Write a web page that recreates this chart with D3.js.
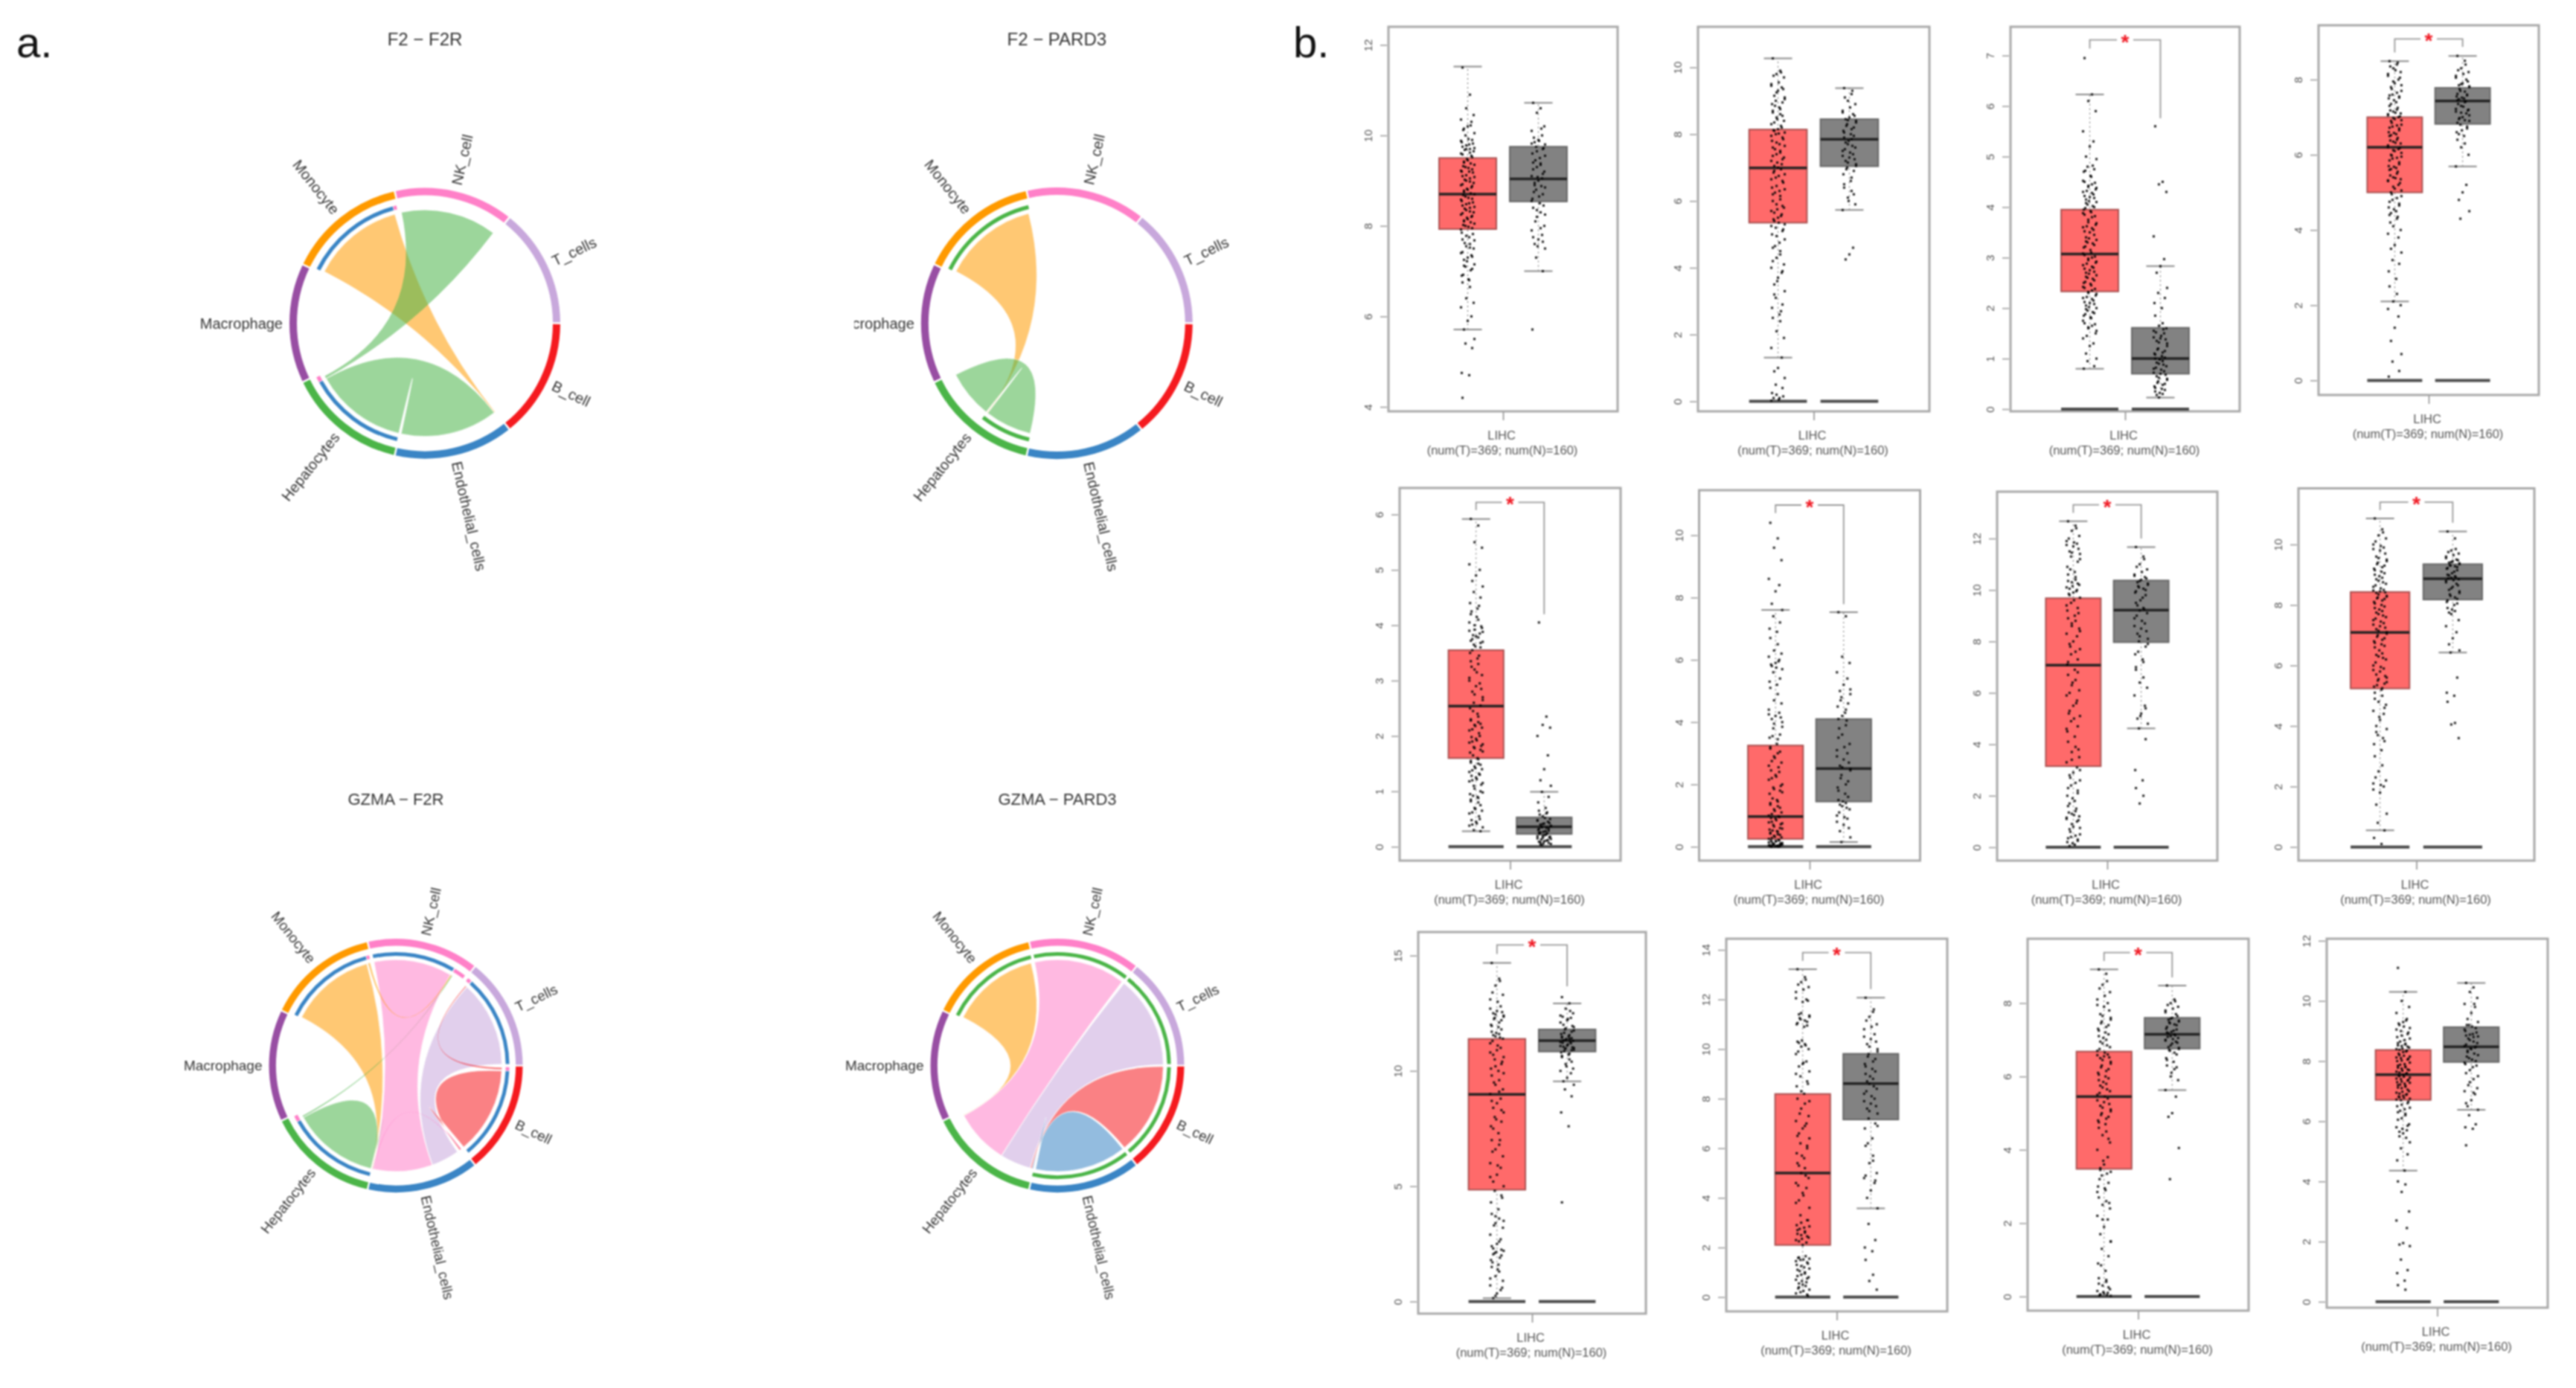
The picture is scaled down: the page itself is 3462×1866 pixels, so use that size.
<!DOCTYPE html>
<html><head><meta charset="utf-8">
<script src="https://cdnjs.cloudflare.com/ajax/libs/d3/7.8.5/d3.min.js"></script>
<style>html,body{margin:0;padding:0;background:#fff;overflow:hidden}svg{display:block;filter:blur(1.1px)}text{font-family:"Liberation Sans",Arial,sans-serif}</style>
</head><body><svg id="c" width="3462" height="1866"></svg>
<script>
// ---------- chord data ----------
const sectors=["B_cell","Endothelial_cells","Hepatocytes","Macrophage","Monocyte","NK_cell","T_cells"];
const sectorColors=["#f51a1f","#3a85c5","#4bb548","#984ea3","#ff9a00","#ff80c8","#c8a8dc"];
const chordTitles=["F2 − F2R","F2 − PARD3","GZMA − F2R","GZMA − PARD3"];
// tracks: [colour sector, from, to]; links: [colour sector, source from, source to, target from, target to], in sector units
const tracks1=[[1,4.02,4.95],[5,4.955,4.985],[1,2.01,2.93],[5,2.935,2.985]];
const links1=[[4,4.03,4.95,1.005,1.012],[2,2.01,2.93,1.015,1.985],[2,2.935,2.96,5.02,5.97]];
const tracks2=[[2,4.02,4.985],[2,2.01,2.49]];
const links2=[[4,4.03,4.97,2.485,2.49],[2,2.5,2.975,2.015,2.48]];
const tracks3=[[1,4.02,4.95],[5,4.955,4.985],[1,5.02,5.85],[5,5.86,5.98],[5,6.02,6.06],[1,6.07,6.985],[5,.015,.05],[1,.055,.975],[1,2.01,2.92],[5,2.925,2.985]];
const links3=[[4,4.03,4.94,2,2.005],[2,2.015,2.93,1.99,1.995],[2,2.935,2.95,5.865,5.875],[5,5.02,5.85,1.36,1.985],[6,6.07,6.985,1.06,1.355],[0,.055,.975,1.01,1.03],[4,4.955,4.975,5.855,5.865],[0,.02,.04,6.05,6.06],[5,1.985,1.995,1.01,1.02]];
const tracks4=[[2,4.02,4.985],[2,5.015,5.985],[2,6.015,6.985],[2,.015,.975],[2,1.01,2]];
const links4=[[4,4.03,4.97,2.955,2.96],[5,5.01,5.98,2.37,2.95],[6,6.01,6.99,2.04,2.365],[0,.01,.985,2.02,2.035],[1,1.01,1.98,2.005,2.018]];
const chordTracks=[tracks1,tracks2,tracks3,tracks4];
const chordLinks=[links1,links2,links3,links4];
// ---------- box data: [low whisker, q1, median, q3, high whisker] ----------
const boxT=[[5.71,7.93,8.7,9.5,11.52],[1.31,5.35,6.99,8.14,10.27],[.8,2.33,3.07,3.95,6.23],[2.1,5,6.2,7,8.49],[.28,1.6,2.54,3.55,5.92],[0,.25,.97,3.25,7.6],[0,3.15,7.08,9.68,12.67],[.55,5.24,7.09,8.43,10.86],[.15,4.85,8.98,11.39,14.68],[0,2.1,5,8.19,13.22],[0,3.48,5.45,6.68,8.92],[4.36,6.71,7.55,8.37,10.3]];
const boxN=[[7,8.54,9.04,9.75,10.72],[5.73,7.04,7.85,8.45,9.38],[.23,.7,1,1.61,2.83],[5.69,6.82,7.43,7.78,8.63],[0,.23,.36,.53,.99],[.15,1.45,2.51,4.1,7.53],[4.62,7.97,9.22,10.37,11.67],[6.43,8.18,8.87,9.35,10.43],[9.55,10.84,11.31,11.8,12.93],[3.58,7.16,8.61,9.81,12.07],[5.63,6.76,7.15,7.6,8.48],[6.38,7.97,8.48,9.13,10.6]];
const zeroBars=[false,true,true,true,true,true,true,true,true,true,true,true];
const tickLabels=[[4,6,8,10,12],[0,2,4,6,8,10],[0,1,2,3,4,5,6,7],[0,2,4,6,8],[0,1,2,3,4,5,6],[0,2,4,6,8,10],[0,2,4,6,8,10,12],[0,2,4,6,8,10],[0,5,10,15],[0,2,4,6,8,10,12,14],[0,2,4,6,8],[0,2,4,6,8,10,12]];
// significance brackets: [top, T side end, N side end] in axis units; null = not significant
const brackets=[null,null,[7.31,7.14,5.76],[9.08,8.72,8.87],[6.22,6.08,4.2],[10.97,10.71,7.79],[13.31,13,12],[11.4,11.14,10.72],[15.46,15.07,13.67],[13.89,13.56,12.42],[9.38,9.15,8.7],null];
const xCategory="LIHC";
const xCounts="(num(T)=369; num(N)=160)";
// points read off each strip (estimates)
const t1=[11.5,10.9,10.6,10.45,10.35,10.3,10.2,10.15,10.05,10,9.9,9.85,9.8,9.75,9.7,9.7,9.65,9.6,9.55,9.45,9.4,9.35,9.3,9.25,9.2,9.2,9.1,9.05,9,8.95,8.9,8.85,8.8,8.75,8.7,8.65,8.6,8.55,8.5,8.45,8.4,8.35,8.3,8.25,8.2,8.15,8.1,8.05,8,7.95,7.85,7.75,7.7,7.6,7.55,7.5,7.4,7.35,7.3,7.25,7.15,7.1,7.05,6.9,6.8,6.75,6.65,6.4,6.3,6.2,6,5.9,5.71,5.5,5.4,5.3,4.75,4.7,4.2];
const n1=[10.72,10.6,10.5,10.2,10.1,10,9.9,9.85,9.8,9.75,9.7,9.6,9.5,9.4,9.35,9.3,9.2,9.1,9.05,9,8.9,8.85,8.8,8.7,8.6,8.5,8.4,8.3,8.2,8,7.9,7.8,7.7,7.6,7.5,7.3,7,5.71];
const t2=[10.27,9.9,9.8,9.7,9.5,9.4,9.3,9.15,9.1,9,8.95,8.9,8.8,8.7,8.6,8.5,8.4,8.3,8.2,8.15,8.1,8.05,8,7.9,7.8,7.7,7.6,7.5,7.4,7.3,7.2,7.1,7,6.9,6.8,6.7,6.6,6.4,6.3,6.2,6.05,5.9,5.8,5.7,5.6,5.5,5.4,5.3,5.2,5.1,5,4.75,4.6,4.5,4.3,4.1,4,3.85,3.7,3.5,3.3,3.1,2.9,2.8,2.6,2.5,2.4,2.1,1.9,1.6,1.31,1,.9,.7,.5,.4,.25,.1];
const n2=[9.38,9.2,9,8.9,8.7,8.6,8.5,8.45,8.4,8.3,8.2,8.1,8,7.9,7.85,7.7,7.6,7.5,7.4,7.3,7.2,7.1,7,6.9,6.8,6.6,6.4,6.3,6.1,5.9,5.73,4.6,4.4,4.25];
const t3=[6.95,6.23,6.1,5.9,5.5,5.3,5.2,5,4.95,4.8,4.75,4.7,4.6,4.5,4.45,4.4,4.35,4.3,4.25,4.2,4.15,4.1,4.05,4,3.95,3.9,3.85,3.8,3.7,3.65,3.6,3.55,3.5,3.4,3.35,3.3,3.25,3.2,3.1,3.05,3,2.95,2.9,2.85,2.8,2.75,2.7,2.65,2.6,2.55,2.5,2.45,2.4,2.35,2.3,2.25,2.2,2.15,2.1,2.05,2,1.95,1.9,1.85,1.8,1.7,1.65,1.6,1.5,1.4,1.3,1.25,1.1,1,.95,.85,.8];
const n3=[5.6,4.5,4.45,4.3,3.42,2.97,2.83,2.7,2.4,2.3,2.2,2.1,2,1.85,1.7,1.65,1.6,1.55,1.5,1.4,1.35,1.3,1.2,1.15,1.1,1.05,1,.95,.9,.85,.8,.75,.7,.65,.6,.55,.5,.45,.4,.35,.3,.23];
const t4=[8.49,8.4,8.3,8.2,8.1,8,7.9,7.8,7.7,7.6,7.55,7.5,7.4,7.3,7.2,7.15,7.1,7.05,7,6.95,6.9,6.8,6.75,6.7,6.6,6.55,6.5,6.4,6.35,6.3,6.2,6.15,6.1,6,5.95,5.9,5.8,5.7,5.65,5.6,5.5,5.4,5.35,5.3,5.2,5.1,5,4.9,4.8,4.7,4.6,4.5,4.4,4.3,4.1,4,3.9,3.8,3.6,3.5,3.4,3.2,3.1,2.9,2.7,2.5,2.3,2.1,2,1.9,1.7,1.4,1.05,.7,.5,.25,.1];
const n4=[8.63,8.5,8.3,8.2,8.1,8,7.9,7.85,7.8,7.7,7.6,7.55,7.5,7.45,7.4,7.3,7.2,7.15,7.1,7,6.95,6.9,6.8,6.7,6.6,6.5,6.4,6.3,6.2,6,5.69,5.2,5,4.8,4.5,4.3];
const t5=[5.92,5.8,5.5,5.4,5.1,5,4.9,4.8,4.7,4.6,4.5,4.4,4.3,4.2,4.1,4,3.95,3.9,3.85,3.8,3.75,3.7,3.65,3.6,3.5,3.4,3.35,3.3,3.2,3.1,3,2.95,2.9,2.8,2.7,2.6,2.55,2.5,2.4,2.3,2.25,2.2,2.15,2.1,2,1.95,1.9,1.85,1.8,1.75,1.7,1.6,1.55,1.5,1.45,1.4,1.35,1.3,1.25,1.2,1.15,1.1,1,.95,.9,.85,.8,.7,.65,.6,.5,.45,.4,.35,.3,.28];
const n5=[4.05,2.35,2.2,2.15,2,1.65,1.4,1.2,1.1,.99,.9,.8,.7,.65,.6,.55,.5,.48,.45,.42,.4,.38,.35,.33,.3,.28,.25,.22,.2,.18,.15,.12,.1,.08,.05,.03];
const t6=[10.4,9.9,9.6,9.2,8.6,8.4,8.2,7.8,7.6,7.4,7.2,7,6.9,6.7,6.5,6.3,6.2,6.1,6,5.9,5.8,5.7,5.6,5.4,5.3,5.2,5.1,4.9,4.7,4.6,4.4,4.3,4.2,4.1,4,3.8,3.6,3.5,3.3,3.2,3,2.9,2.7,2.6,2.4,2.3,2.2,2,1.9,1.8,1.7,1.5,1.4,1.3,1.2,1.1,1,.95,.9,.8,.75,.7,.6,.55,.5,.45,.4,.35,.3,.25,.2,.18,.15,.12,.1,.08,.05,.03,.02,.01];
const n6=[7.53,7.4,6.1,5.9,5.6,5.4,5.2,5,4.9,4.8,4.6,4.5,4.3,4.1,3.9,3.6,3.3,3.1,3,2.8,2.6,2.5,2.3,2.1,1.9,1.7,1.5,1.4,1.3,1.2,1,.9,.7,.5,.3,.15];
const t7=[12.67,12.5,12.3,12.1,11.9,11.8,11.7,11.5,11.4,11.3,11.1,10.9,10.7,10.6,10.4,10.3,10.2,10.1,10,9.9,9.8,9.7,9.5,9.3,9.2,9,8.9,8.8,8.6,8.5,8.3,8.2,8,7.9,7.7,7.5,7.3,7.1,6.9,6.7,6.5,6.3,6.1,5.9,5.7,5.5,5.3,5.1,4.9,4.7,4.5,4.3,4.1,3.9,3.7,3.5,3.3,3.1,2.9,2.8,2.6,2.4,2.2,2,1.8,1.6,1.4,1.3,1.2,1.1,1,.8,.7,.5,.4,.3,.2,.1];
const n7=[11.67,11.3,11,10.8,10.6,10.5,10.4,10.3,10.2,10.1,10,9.9,9.7,9.5,9.3,9.2,9.1,8.9,8.7,8.5,8.3,8.1,8,7.8,7.5,7.3,7,6.6,6.4,6.2,5.9,5.5,5.2,5,4.8,4.62,4.2,3,2.6,2.3,2,1.7];
const t8=[10.86,10.5,10.3,10.2,10,9.9,9.8,9.6,9.5,9.4,9.3,9.2,9.1,9,8.9,8.8,8.7,8.6,8.5,8.45,8.4,8.3,8.25,8.2,8.1,8,7.9,7.8,7.7,7.6,7.5,7.4,7.3,7.2,7.1,7,6.9,6.8,6.7,6.6,6.4,6.3,6.2,6,5.9,5.8,5.7,5.6,5.5,5.4,5.3,5.2,5.1,5,4.8,4.7,4.5,4.4,4.2,4,3.9,3.7,3.5,3.4,3.2,3,2.7,2.5,2.2,2.1,2,1.8,1.4,1.1,.8,.55,.3,.1];
const n8=[10.43,10.2,9.8,9.7,9.6,9.5,9.45,9.4,9.35,9.3,9.25,9.2,9.1,9,8.95,8.9,8.85,8.8,8.7,8.6,8.5,8.4,8.3,8.2,8.1,8,7.9,7.8,7.7,7.5,7.3,7.1,6.9,6.7,6.5,6.43,5.6,5.1,5,4.8,4.1,4.05,3.6];
const t9=[14.68,14,13.7,13.3,13.1,12.8,12.6,12.5,12.4,12.3,12.2,12,11.9,11.7,11.6,11.5,11.4,11.2,11,10.9,10.7,10.6,10.5,10.3,10.1,10,9.8,9.6,9.4,9.2,9,8.8,8.6,8.4,8.2,8,7.8,7.6,7.3,7,6.8,6.6,6.3,6,5.8,5.5,5.2,5,4.8,4.6,4.3,4,3.8,3.6,3.4,3.2,2.9,2.7,2.5,2.3,2.2,2.1,2,1.8,1.6,1.5,1.3,1.1,.9,.7,.5,.35,.15];
const n9=[13.2,12.93,12.7,12.5,12.4,12.3,12.2,12,11.9,11.8,11.7,11.6,11.5,11.45,11.4,11.35,11.3,11.25,11.2,11.1,11.05,11,10.95,10.9,10.8,10.7,10.6,10.5,10.3,10.1,10,9.9,9.7,9.55,9.4,9.2,8.9,8.2,7.6,4.3];
const t10=[13.22,12.9,12.7,12.5,12.3,12,11.9,11.4,11.3,11.2,11.1,11,10.9,10.3,10.2,10.1,10,9.8,9.5,9.4,9.3,9.1,8.9,8.7,8.5,8.2,8,7.8,7.6,7.3,7.1,7,6.8,6.6,6.4,6.2,6,5.8,5.6,5.4,5.2,5,4.8,4.6,4.4,4.2,3.9,3.6,3.3,3.1,2.9,2.8,2.7,2.6,2.5,2.4,2.3,2.2,2.1,1.6,1.55,1.5,1.4,1.3,1.2,1.1,1,.9,.8,.7,.6,.5,.4,.3,.2,.1];
const n10=[12.07,11.5,11.3,11,10.8,10.6,10.4,10.2,10,9.8,9.6,9.4,9.2,9,8.8,8.6,8.4,8.2,8,7.8,7.6,7.4,7.2,7,6.8,6.4,6.1,5.7,5.4,5,4.8,4.6,4.3,4,3.58,2.95,2.3,2,1.85,1.5,.9,.65,.3];
const t11=[8.92,8.8,8.5,8.3,8.1,8,7.9,7.7,7.6,7.5,7.4,7.3,7.2,7.1,7,6.9,6.8,6.7,6.6,6.55,6.5,6.4,6.3,6.2,6.1,6,5.9,5.8,5.7,5.6,5.5,5.4,5.3,5.2,5.1,5,4.9,4.8,4.7,4.6,4.5,4.4,4.2,4,3.8,3.6,3.5,3.4,3.3,3.1,3,2.9,2.7,2.6,2.5,2.4,2.2,2.1,1.9,1.7,1.5,1.3,1.1,.9,.7,.5,.4,.3,.2,.15,.1,.08,.05,.02];
const n11=[8.48,8.1,8,7.9,7.8,7.7,7.6,7.55,7.5,7.45,7.4,7.3,7.25,7.2,7.15,7.1,7.05,7,6.95,6.9,6.8,6.75,6.7,6.6,6.5,6.4,6.3,6.2,6,5.9,5.63,5.45,5,4.9,4.05,3.2];
const t12=[11.1,10.3,10,9.8,9.6,9.4,9.3,9.2,9.1,9,8.9,8.8,8.7,8.6,8.55,8.5,8.45,8.4,8.35,8.3,8.2,8.15,8.1,8.05,8,7.9,7.85,7.8,7.75,7.7,7.65,7.6,7.55,7.5,7.45,7.4,7.35,7.3,7.25,7.2,7.15,7.1,7,6.95,6.9,6.85,6.8,6.75,6.7,6.6,6.5,6.4,6.3,6.2,6.1,5.9,5.8,5.7,5.6,5.5,5.3,5.1,4.9,4.7,4.36,4,3.9,3.65,3,2.7,2.45,1.95,1.9,1.85,1.4,1.05,.95,.7,.55,.4];
const n12=[10.6,10.45,10.3,10.1,9.9,9.8,9.6,9.4,9.3,9.2,9.1,9,8.9,8.85,8.8,8.7,8.6,8.5,8.45,8.4,8.3,8.2,8.1,8,7.9,7.8,7.6,7.4,7.3,7.1,7,6.9,6.7,6.5,6.38,6.2,5.9,5.8,5.75,5.2];
// further points read from the dense stretches of each strip
const xt1=[10.22,10.12,9.92,9.88,9.82,9.78,9.72,9.68,9.62,9.58,9.52,9.48,9.42,9.38,9.32,9.28,9.22,9.18,9.12,9.08,9.02,8.98,8.92,8.88,8.82,8.78,8.72,8.68,8.62,8.58,8.52,8.48,8.42,8.38,8.32,8.28,8.22,8.18,8.12,8.08,8.02,7.98,7.92,7.82,7.78,7.68,7.62,7.52,7.42,7.32,7.22,7.12,7.02,6.92,6.82];
const xn1=[10.15,9.95,9.88,9.82,9.72,9.65,9.55,9.45,9.38,9.25,9.15,9.08,8.95,8.88,8.75,8.65,8.55,8.45,8.35,8.25,8.1,7.95,7.75,7.65,7.55];
const xt2=[9.85,9.75,9.55,9.45,9.35,9.25,9.05,8.85,8.75,8.65,8.55,8.45,8.35,8.25,8.12,8.02,7.95,7.85,7.75,7.65,7.55,7.45,7.35,7.25,7.15,7.05,6.95,6.85,6.75,6.65,6.55,6.45,6.35,6.25,6.15,6,5.85,5.75,5.65,5.55,5.45,5.35,5.25,5.15,4.95,4.85,4.65,4.4,4.2,3.9,3.6,3.2,2.7,.1,.05,.02,.15,.2];
const xn2=[9.3,9.1,8.8,8.65,8.55,8.42,8.35,8.25,8.15,8.05,7.95,7.8,7.75,7.65,7.55,7.45,7.35,7.25,7.15,7.05,6.95,6.7,6.5,6.2,6];
const xt3=[4.82,4.72,4.62,4.52,4.48,4.42,4.38,4.32,4.28,4.22,4.18,4.12,4.08,4.02,3.98,3.92,3.88,3.82,3.75,3.68,3.62,3.58,3.52,3.45,3.38,3.32,3.28,3.22,3.15,3.08,3.02,2.98,2.92,2.88,2.82,2.78,2.72,2.68,2.62,2.58,2.52,2.48,2.42,2.38,2.32,2.28,2.22,2.18,2.12,2.08,2.02,1.98,1.92,1.88,1.82,1.75,1.68,1.62,1.55,1.45];
const xn3=[1.58,1.52,1.45,1.42,1.38,1.32,1.25,1.18,1.12,1.08,1.02,.98,.92,.88,.82,.78,.72,.68,.62,.58,.52,.48,.42,.38,.32,.28];
const xt4=[8.45,8.35,8.25,8.15,8.05,7.95,7.85,7.75,7.65,7.58,7.52,7.45,7.35,7.25,7.18,7.12,7.08,7.02,6.98,6.92,6.85,6.78,6.72,6.65,6.58,6.52,6.45,6.38,6.32,6.25,6.18,6.12,6.05,5.98,5.92,5.85,5.75,5.68,5.62,5.55,5.45,5.38,5.32,5.25,5.15,5.05,4.95,4.85,4.75,4.65,4.55,4.45,4.35,4.2];
const xn4=[8.4,8.25,8.15,8.05,7.95,7.88,7.82,7.75,7.68,7.62,7.58,7.52,7.48,7.42,7.35,7.28,7.22,7.18,7.12,7.05,6.98,6.92,6.85,6.75,6.65,6.55];
const xt5=[4.35,4.25,4.15,4.05,3.98,3.92,3.88,3.82,3.78,3.72,3.68,3.62,3.55,3.45,3.25,3.15,3.05,2.85,2.75,2.65,2.45,2.35,2.28,2.22,2.18,2.12,2.05,1.98,1.92,1.88,1.82,1.78,1.72,1.65,1.58,1.52,1.48,1.42,1.38,1.32,1.28,1.22,1.18,1.12,1.05,.98,.92,.88,.82,.75,.68,.62,.55,.48,.42,.38];
const xn5=[.62,.58,.52,.47,.43,.41,.37,.36,.34,.32,.29,.27,.26,.24,.23,.21,.19,.17,.16,.14,.13,.11,.09,.07,.06,.04];
const xt6=[5.95,5.85,5.75,4.25,4.15,3.95,3.85,3.55,3.45,3.15,3.05,2.85,2.75,2.55,2.45,2.25,2.15,1.95,1.85,1.75,1.55,1.45,1.35,1.25,1.15,1.05,.98,.92,.85,.78,.72,.65,.58,.52,.48,.42,.38,.32,.28,.22,.2,.17,.14,.11,.09,.07,.06,.04,.03,.02,.01,0,0,0,.02,.04,.06];
const xn6=[4.05,3.8,3.2,2.9,2.7,2.55,2.45,2.2,2,1.8,1.6,1.45,1.35,1.25,1.1,.95,.8,.6,4.2,5.05,4.7,4.4,3.5];
const xt7=[12.4,12,11.85,11.75,11.6,11.45,11.2,10.8,10.5,10.35,10.25,10.15,10.05,9.95,9.85,9.6,9.4,9.1,8.7,8.4,7.8,7.6,7.2,6.8,6.4,6,5.6,5.2,5,4.6,3.8,3.4,3,2.7,2.5,2.3,2.1,1.9,1.7,1.5,1.35,1.25,1.15,1.05,.9,.75,.6,.45,.35,.25,.15,.05];
const xn7=[11.2,10.9,10.7,10.55,10.45,10.35,10.25,10.15,10.05,9.95,9.8,9.6,9.4,9.25,9,8.8,8.6,8.4,8.2,7.9,7.6,7.2,6.9,5.4,5.1];
const xt8=[10.4,10.1,9.95,9.85,9.7,9.55,9.45,9.35,9.25,9.15,9.05,8.95,8.85,8.75,8.65,8.55,8.48,8.42,8.35,8.28,8.22,8.15,8.05,7.95,7.85,7.75,7.65,7.55,7.45,7.35,7.25,7.15,7.05,6.95,6.85,6.75,6.65,6.5,6.35,6.25,6.1,5.95,5.85,5.65,5.55,5.45,5.35,5.25,4.9,4.6,4.3,3.8,3.6,2.3,2.05,1.9];
const xn8=[9.85,9.75,9.65,9.55,9.48,9.42,9.38,9.32,9.28,9.22,9.15,9.05,8.98,8.92,8.88,8.82,8.75,8.65,8.55,8.45,8.35,8.25,8.15,8.05,7.85,7.75];
const xt9=[13.9,13.4,13,12.7,12.55,12.45,12.35,12.25,12.1,11.95,11.8,11.65,11.55,11.45,11.3,11.1,10.8,10.4,10.2,9.9,9.5,9.1,8.7,8.3,7.9,7.5,7,6.5,5.9,5.4,4.5,3.7,3.5,3.3,2.6,2.4,2.25,2.15,2.05,1.9,1.7,1.4,1,.6,.25];
const xn9=[12.6,12.35,12.25,12.1,11.95,11.85,11.75,11.65,11.55,11.48,11.42,11.38,11.33,11.28,11.22,11.15,11.08,11.02,10.98,10.92,10.85,10.75,10.65,10.4,10.2];
const xt10=[12.8,12.6,12.4,12.05,11.95,11.45,11.35,11.25,11.15,11.05,10.95,10.35,10.25,10.15,9.9,9.45,9,8.6,8.3,7.9,7.4,6.9,6.5,6.1,5.7,5.3,4.9,4.5,4.1,3.8,3.1,3,2.85,2.75,2.65,2.55,2.45,2.35,2.25,1.65,1.58,1.52,1.45,1.35,1.25,1.15,1.05,.95,.85,.75,.65,.55,.45,.35,.25,.15,.05];
const xn10=[11.6,11.15,10.9,10.5,10.3,10.1,9.9,9.7,9.5,9.3,9.1,8.9,8.7,8.5,8.3,8.1,7.9,7.7,7.5,6.9,6.2,5.5,4.9,4.7];
const xt11=[8.6,8.4,8.2,7.95,7.8,7.65,7.55,7.45,7.35,7.25,7.15,7.05,6.95,6.85,6.75,6.65,6.58,6.52,6.45,6.35,6.25,6.15,6.05,5.95,5.85,5.75,5.65,5.55,5.45,5.35,5.25,5.15,5.05,4.95,4.85,4.75,4.3,3.7,3.45,3.35,3.2,2.95,2.85,2.55,2.1,1.5,.85,.45,.35,.25,.12,.06,.04,.03];
const xn11=[8.05,7.95,7.85,7.75,7.65,7.58,7.52,7.48,7.42,7.35,7.28,7.22,7.18,7.12,7.08,7.02,6.98,6.92,6.85,6.78,6.72,6.65,6.45,6.25,6.1];
const xt12=[9.35,9.25,9.15,9.05,8.95,8.85,8.75,8.65,8.58,8.52,8.48,8.42,8.38,8.32,8.25,8.18,8.12,8.08,8.02,7.95,7.88,7.82,7.78,7.72,7.68,7.62,7.58,7.52,7.48,7.42,7.38,7.32,7.28,7.22,7.18,7.12,7.05,6.98,6.92,6.88,6.82,6.78,6.72,6.65,6.55,6.45,6.35,6.25,6.05,5.85,5.75,5.65,5.45];
const xn12=[9.9,9.2,9.15,9.05,8.95,8.88,8.82,8.75,8.65,8.55,8.48,8.42,8.35,8.25,8.15,8.05,7.95,7.85,7.7,7.5,7.2,6.95,6.6];
const pointsT=[t1,t2,t3,t4,t5,t6,t7,t8,t9,t10,t11,t12];
const pointsN=[n1,n2,n3,n4,n5,n6,n7,n8,n9,n10,n11,n12];
const extraT=[xt1,xt2,xt3,xt4,xt5,xt6,xt7,xt8,xt9,xt10,xt11,xt12];
const extraN=[xn1,xn2,xn3,xn4,xn5,xn6,xn7,xn8,xn9,xn10,xn11,xn12];

// ---------- layout (no data) ----------
const chordLayout=[{cx:571,cy:434.6,r:182,ty:61,ts:24,ls:20},{cx:1420.3,cy:434.6,r:182.5,ty:61,ts:24,ls:20},{cx:532,cy:1432.6,r:170.5,ty:1082,ts:22,ls:19},{cx:1421,cy:1432.6,r:170.5,ty:1082,ts:22,ls:19}];
// frame x0,x1,y0,y1 and pixel range for first/last tick
const boxLayout=[[1866,2174,36,553,547,60.4],[2282,2593,36,553,539.6,90.6],[2702,3010,36,553,550,74.7],[3116,3412,34,531,511.4,107],
[1881,2178,656,1157,1138.3,691.7],[2283.5,2580.5,659,1157,1138.3,719.6],[2684,2980,661,1157,1139,724],[3089,3406,656.5,1157,1138.7,732],
[1906,2212,1253,1766,1749.8,1284.7],[2320,2617,1262,1763,1743.8,1277],[2725,3022,1262,1762,1743,1348.6],[3127,3424,1262,1758,1750,1264.8]];
const jitterA=[-7,3,-2,8,-9,5,0,-5,9,-3,6,-8,2];
const jitterB=[4,-6,1,-9,7,-2,9,-4,3,-7,6,-1,-5];

const svg=d3.select("#c");
svg.append("text").attr("x",22).attr("y",77).attr("font-size",58).attr("fill","#111").text("a.");
svg.append("text").attr("x",1738).attr("y",77).attr("font-size",58).attr("fill","#111").text("b.");
svg.append("defs").append("clipPath").attr("id","clipMac").append("rect").attr("x",1148).attr("y",0).attr("width",400).attr("height",900);

// ---------- chord panels ----------
const angle=d3.scaleLinear().domain([0,sectors.length]).range([Math.PI/2,Math.PI/2+2*Math.PI]);
chordLayout.forEach((L,p)=>{
  svg.append("text").attr("x",L.cx).attr("y",L.ty).attr("text-anchor","middle").attr("font-size",L.ts).attr("fill","#333").text(chordTitles[p]);
  const g=svg.append("g").attr("transform",`translate(${L.cx},${L.cy})`);
  const band=d3.arc().innerRadius(L.r*.945).outerRadius(L.r);
  g.selectAll("path.band").data(sectors).join("path").attr("class","band")
    .attr("d",(d,i)=>band({startAngle:angle(i+.008),endAngle:angle(i+.992)})).attr("fill",(d,i)=>sectorColors[i]);
  const track=d3.arc().innerRadius(L.r*.866).outerRadius(L.r*.895);
  g.selectAll("path.track").data(chordTracks[p]).join("path").attr("class","track")
    .attr("d",d=>track({startAngle:angle(d[1]),endAngle:angle(d[2])})).attr("fill",d=>sectorColors[d[0]]);
  const ribbon=d3.ribbon().radius(L.r*.835);
  g.selectAll("path.link").data(chordLinks[p]).join("path").attr("class","link")
    .attr("d",d=>ribbon({source:{startAngle:angle(d[1]),endAngle:angle(d[2])},target:{startAngle:angle(d[3]),endAngle:angle(d[4])}}))
    .attr("fill",d=>sectorColors[d[0]]).attr("fill-opacity",.55)
    .attr("stroke",d=>(d[2]-d[1]>.1)?"#fff":"none").attr("stroke-width",.8).attr("stroke-opacity",.7);
  sectors.forEach((s,i)=>{
    const deg=(i+.5)*360/sectors.length, flip=deg>90&&deg<270;
    const t=g.append("text").attr("transform",`rotate(${deg}) translate(${L.r+9},0) rotate(${flip?180:0})`)
      .attr("text-anchor",flip?"end":"start").attr("dy",".35em").attr("font-size",L.ls).attr("fill","#333").text(s);
    if(p===1&&s==="Macrophage"){ // the source figure crops this label
      const wrap=svg.append("g").attr("clip-path","url(#clipMac)").append("g").attr("transform",`translate(${L.cx},${L.cy})`);
      wrap.node().appendChild(t.node());
    }
  });
});

// ---------- box panels ----------
boxLayout.forEach((F,p)=>{
  const [x0,x1,y0,y1,r0,r1]=F, w=x1-x0, cx=(x0+x1)/2;
  const ticks=tickLabels[p];
  const y=d3.scaleLinear().domain([ticks[0],ticks[ticks.length-1]]).range([r0,r1]);
  const x=d3.scaleBand().domain(["T","N"]).range([cx-.279*w,cx+.279*w]).paddingInner(.19).paddingOuter(0);
  const g=svg.append("g");
  g.append("rect").attr("x",x0).attr("y",y0).attr("width",w).attr("height",y1-y0).attr("fill","#fff").attr("stroke","#a8a8a8").attr("stroke-width",3);
  const ax=g.append("g").attr("transform",`translate(${x0-2},0)`).call(d3.axisLeft(y).tickValues(ticks).tickSize(9).tickFormat(d3.format("d")));
  ax.select(".domain").remove();
  ax.selectAll("line").attr("stroke","#999").attr("stroke-width",1.5);
  ax.selectAll("g.tick text").attr("font-size",15).attr("fill","#555").attr("font-family","Liberation Sans")
    .attr("transform","rotate(-90)").attr("x",0).attr("y",-20).attr("dy",0).attr("text-anchor","middle");
  const bx=d3.scalePoint().domain([xCategory]).range([cx,cx]);
  const ax2=g.append("g").attr("transform",`translate(0,${y1+1})`).call(d3.axisBottom(bx).tickSize(11).tickFormat(""));
  ax2.select(".domain").remove(); ax2.selectAll("line").attr("stroke","#888").attr("stroke-width",1.5);
  g.append("text").attr("x",cx-2).attr("y",y1+38).attr("text-anchor","middle").attr("font-size",16.5).attr("fill","#555").text(xCategory);
  g.append("text").attr("x",cx-1).attr("y",y1+58).attr("text-anchor","middle").attr("font-size",16.5).attr("fill","#555").text(xCounts);

  [["T",boxT[p],"#ff6a6a","#a85050"],["N",boxN[p],"#828282","#666"]].forEach(([k,b,fill,line])=>{
    const l=x(k), bw=x.bandwidth(), c=l+bw/2;
    g.append("line").attr("x1",c).attr("x2",c).attr("y1",y(b[0])).attr("y2",y(b[4])).attr("stroke","#666").attr("stroke-width",1).attr("stroke-dasharray","2 4");
    [b[0],b[4]].forEach(v=>g.append("line").attr("x1",c-19).attr("x2",c+19).attr("y1",y(v)).attr("y2",y(v)).attr("stroke","#8a8a8a").attr("stroke-width",2));
    g.append("rect").attr("x",l).attr("width",bw).attr("y",y(b[3])).attr("height",y(b[1])-y(b[3])).attr("fill",fill).attr("stroke",line).attr("stroke-width",2);
    g.append("line").attr("x1",l).attr("x2",l+bw).attr("y1",y(b[2])).attr("y2",y(b[2])).attr("stroke","#222").attr("stroke-width",3.5);
    if(zeroBars[p]) g.append("line").attr("x1",l).attr("x2",l+bw).attr("y1",y(0)).attr("y2",y(0)).attr("stroke","#4a4a4a").attr("stroke-width",4);
  });
  [["T",pointsT[p],jitterA],["N",pointsN[p],jitterA],["T",extraT[p],jitterB],["N",extraN[p],jitterB]].forEach(([k,vals,jit])=>{
    const c=x(k)+x.bandwidth()/2;
    g.selectAll(null).data(vals).join("rect").attr("x",(v,i)=>c+jit[i%jit.length]-1.5).attr("y",v=>y(v)-1.5)
      .attr("width",3).attr("height",3).attr("fill","#000").attr("fill-opacity",.9);
  });
  const B=brackets[p];
  if(B){
    const cT=x("T")+x.bandwidth()/2, cN=x("N")+x.bandwidth()/2, mid=(cT+cN)/2;
    g.append("path").attr("fill","none").attr("stroke","#999").attr("stroke-width",1.8)
      .attr("d",`M${cT},${y(B[1])}V${y(B[0])}H${mid-11}M${mid+11},${y(B[0])}H${cN}V${y(B[2])}`);
    g.append("text").attr("x",mid).attr("y",y(B[0])+12).attr("text-anchor","middle").attr("font-size",28).attr("font-weight","bold").attr("fill","#f01a24").text("*");
  }
});
</script></body></html>
